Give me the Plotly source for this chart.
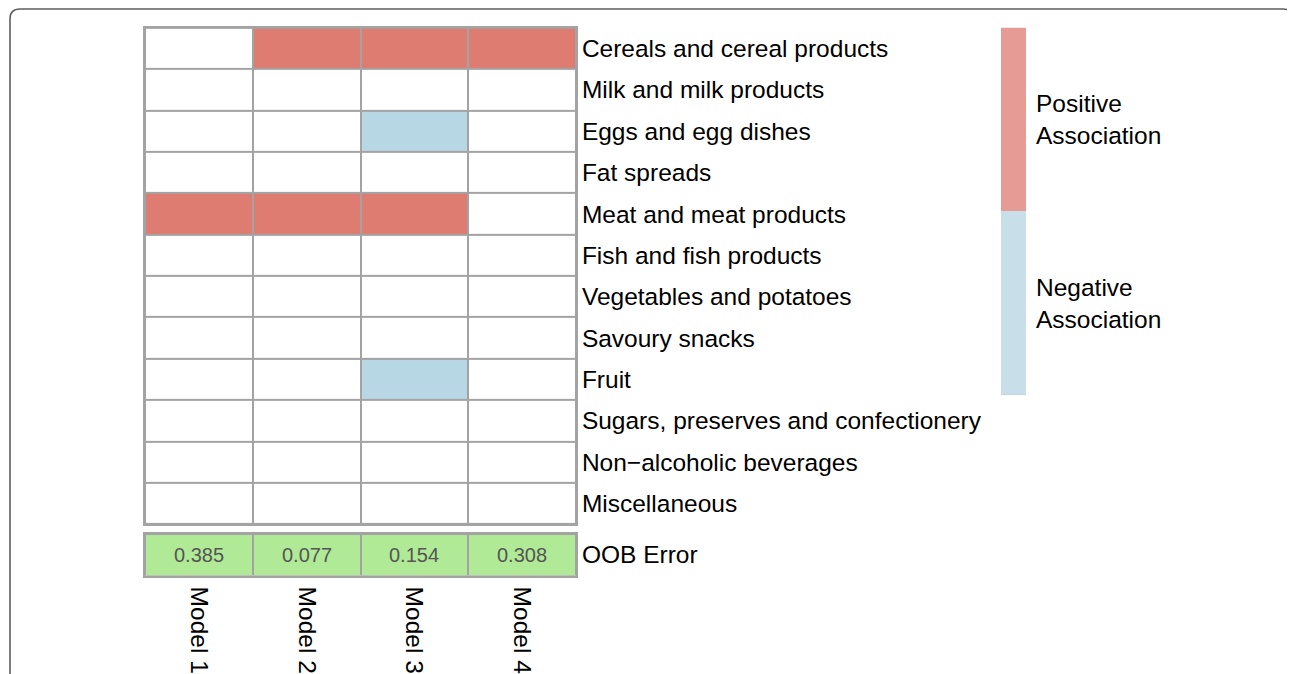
import plotly.graph_objects as go

# The page puts the plot 8px in from the top-left corner of the window
OFF = 8
W, H = 1295 - OFF, 674 - OFF

models = ["Model 1", "Model 2", "Model 3", "Model 4"]
categories = [
    "Cereals and cereal products",
    "Milk and milk products",
    "Eggs and egg dishes",
    "Fat spreads",
    "Meat and meat products",
    "Fish and fish products",
    "Vegetables and potatoes",
    "Savoury snacks",
    "Fruit",
    "Sugars, preserves and confectionery",
    "Non\u2212alcoholic beverages",
    "Miscellaneous",
]
# 1 = positive association, -1 = negative association, 0 = none
association = [
    [0, 1, 1, 1],
    [0, 0, 0, 0],
    [0, 0, -1, 0],
    [0, 0, 0, 0],
    [1, 1, 1, 0],
    [0, 0, 0, 0],
    [0, 0, 0, 0],
    [0, 0, 0, 0],
    [0, 0, -1, 0],
    [0, 0, 0, 0],
    [0, 0, 0, 0],
    [0, 0, 0, 0],
]
oob_error = [0.385, 0.077, 0.154, 0.308]
legend_labels = ["Positive<br>Association", "Negative<br>Association"]
legend_values = [1, -1]

RED = "#DF7C71"
BLUE = "#B8D7E5"
LRED = "#E69C94"
LBLUE = "#C8DFEA"
GREEN = "#B0EA96"
GRID = "#A3A3A3"
FONT = "Liberation Sans, Arial, Helvetica, sans-serif"


def px(x):
    return (x - OFF) / W


def py(y):
    return 1 - (y - OFF) / H


fig = go.Figure()

fig.add_trace(go.Heatmap(
    z=association, x=models, y=categories,
    zmin=-1, zmax=1,
    colorscale=[[0, BLUE], [0.333, BLUE], [0.333, "#FFFFFF"], [0.667, "#FFFFFF"],
                [0.667, RED], [1, RED]],
    showscale=False, xgap=2, ygap=2, hoverinfo="skip",
    xaxis="x", yaxis="y",
))

fig.add_trace(go.Heatmap(
    z=[oob_error], x=models, y=["OOB Error"],
    colorscale=[[0, GREEN], [1, GREEN]],
    showscale=False, xgap=2, ygap=2, hoverinfo="skip",
    texttemplate="%{z:.3f}", textfont=dict(size=20, color="#555555", family=FONT),
    xaxis="x2", yaxis="y2",
))

fig.add_trace(go.Heatmap(
    z=[[v] for v in legend_values], x=["legend"], y=legend_labels,
    zmin=-1, zmax=1,
    colorscale=[[0, LBLUE], [0.5, LBLUE], [0.5, LRED], [1, LRED]],
    showscale=False, hoverinfo="skip",
    xaxis="x3", yaxis="y3",
))

axis_common = dict(showgrid=False, zeroline=False, fixedrange=True)
border = dict(showline=True, linecolor=GRID, linewidth=2, mirror=True)

fig.update_layout(
    width=W, height=H,
    margin=dict(l=0, r=0, t=0, b=0),
    paper_bgcolor="white",
    plot_bgcolor=GRID,
    font=dict(family=FONT, size=24, color="black"),
    xaxis=dict(domain=[px(145), px(576)], anchor="y", showticklabels=False,
               ticks="", **axis_common, **border),
    yaxis=dict(domain=[py(528), py(28)], anchor="x", side="right",
               autorange="reversed", ticks="", ticklabelstandoff=-1,
               tickfont=dict(size=24.5), **axis_common, **border),
    xaxis2=dict(domain=[px(145), px(576)], anchor="y2", side="bottom",
                tickangle=90, ticks="", ticklabelstandoff=4,
                tickfont=dict(size=24.5), **axis_common, **border),
    yaxis2=dict(domain=[py(580), py(538)], anchor="x2", side="right",
                ticks="", ticklabelstandoff=-1,
                tickfont=dict(size=24.5), **axis_common, **border),
    xaxis3=dict(domain=[px(1001), px(1026)], anchor="y3", showticklabels=False,
                ticks="", **axis_common),
    yaxis3=dict(domain=[py(398), py(28)], anchor="x3", side="right",
                autorange="reversed", ticks="", ticklabelstandoff=9,
                tickfont=dict(size=24.5), **axis_common),
)

# rounded outer frame
r = 10
x0, x1, y0 = 10, 1293, 9
path = (
    f"M {px(x0)},{py(720)} L {px(x0)},{py(y0 + r)} "
    f"Q {px(x0)},{py(y0)} {px(x0 + r)},{py(y0)} "
    f"L {px(x1 - r)},{py(y0)} "
    f"Q {px(x1)},{py(y0)} {px(x1)},{py(y0 + r)} "
    f"L {px(x1)},{py(720)}"
)
fig.add_shape(type="path", path=path, xref="paper", yref="paper",
              line=dict(color="#5E5E5E", width=1.6))

fig.write_html("out.html")
